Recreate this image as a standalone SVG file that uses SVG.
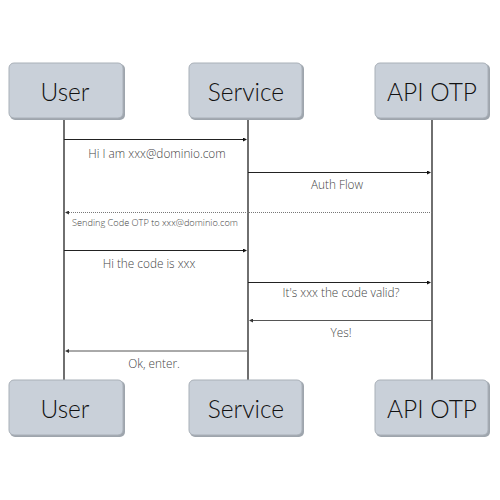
<svg xmlns="http://www.w3.org/2000/svg" width="500" height="500" viewBox="0 0 500 500">
<defs>
<marker id="dot" viewBox="0 0 6 6" refX="3" refY="3" markerWidth="4" markerHeight="4" markerUnits="userSpaceOnUse" orient="auto"><path d="M0,0 L6,3 L0,6 z" fill="#111"/></marker>
<marker id="dotg" viewBox="0 0 6 6" refX="3" refY="3" markerWidth="4" markerHeight="4" markerUnits="userSpaceOnUse" orient="auto"><path d="M0,0 L6,3 L0,6 z" fill="#333"/></marker>
</defs>
<style>
.box{fill:#c9d0d9;stroke:#a9b0b8;stroke-width:1}
.shadow{fill:#9ea5ad}
.title{font-family:"Lato","Open Sans",sans-serif;font-weight:300;font-size:24.5px;fill:#111;text-anchor:middle}
.life{stroke:#222;stroke-width:1.3;fill:none}
.msg{stroke:#222;stroke-width:1;fill:none;marker-end:url(#dot)}
.msgg{stroke:#555;stroke-width:1;fill:none;marker-end:url(#dotg)}
.dotted{stroke:#777;stroke-width:1;stroke-dasharray:1 1;fill:none;marker-end:url(#dotg)}
.lbl{font-family:"Open Sans",sans-serif;font-weight:300;font-size:11.8px;fill:#444;text-anchor:middle}
.small{font-family:"Open Sans",sans-serif;font-weight:300;font-size:9.2px;fill:#444}
</style>
<rect width="500" height="500" fill="#fff"/>
<g id="lifelines">
<line class="life" x1="64" y1="119" x2="64" y2="380"/>
<line class="life" x1="248" y1="119" x2="248" y2="380"/>
<line class="life" x1="432" y1="119" x2="432" y2="380"/>
</g>
<g id="user-top"><rect class="shadow" x="10" y="64" width="115" height="56" rx="5"/><rect class="box" x="9" y="63" width="114" height="55" rx="5"/><text class="title" x="65" y="100.5">User</text></g>
<g id="service-top"><rect class="shadow" x="190" y="64" width="114" height="56" rx="5"/><rect class="box" x="189" y="63" width="113" height="55" rx="5"/><text class="title" x="246" y="100.5">Service</text></g>
<g id="api-top"><rect class="shadow" x="376" y="64" width="114" height="56" rx="5"/><rect class="box" x="375" y="63" width="113" height="55" rx="5"/><text class="title" x="432" y="100.5">API OTP</text></g>
<g id="user-bottom"><rect class="shadow" x="10" y="381" width="115" height="56" rx="5"/><rect class="box" x="9" y="380" width="114" height="55" rx="5"/><text class="title" x="65" y="417.5">User</text></g>
<g id="service-bottom"><rect class="shadow" x="190" y="381" width="114" height="56" rx="5"/><rect class="box" x="189" y="380" width="113" height="55" rx="5"/><text class="title" x="246" y="417.5">Service</text></g>
<g id="api-bottom"><rect class="shadow" x="376" y="381" width="114" height="56" rx="5"/><rect class="box" x="375" y="380" width="113" height="55" rx="5"/><text class="title" x="432" y="417.5">API OTP</text></g>
<g id="connectors">
<line class="msg" x1="64" y1="139.5" x2="245" y2="139.5"/>
<line class="msg" x1="248" y1="172.5" x2="429" y2="172.5"/>
<line class="dotted" x1="432" y1="212.5" x2="67" y2="212.5"/>
<line class="msg" x1="64" y1="250.5" x2="245" y2="250.5"/>
<line class="msg" x1="248" y1="282.5" x2="429" y2="282.5"/>
<line class="msgg" x1="432" y1="320.5" x2="251" y2="320.5"/>
<line class="msgg" x1="247" y1="351" x2="67" y2="351"/>
</g>
<g id="labels">
<text class="lbl" x="157" y="158">Hi I am xxx@dominio.com</text>
<text class="lbl" x="337" y="189">Auth Flow</text>
<text class="small" x="72" y="226">Sending Code OTP to xxx@dominio.com</text>
<text class="lbl" x="149" y="268">Hi the code is xxx</text>
<text class="lbl" x="341" y="297">It's xxx the code valid?</text>
<text class="lbl" x="341" y="337">Yes!</text>
<text class="lbl" x="154" y="368">Ok, enter.</text>
</g>
</svg>
